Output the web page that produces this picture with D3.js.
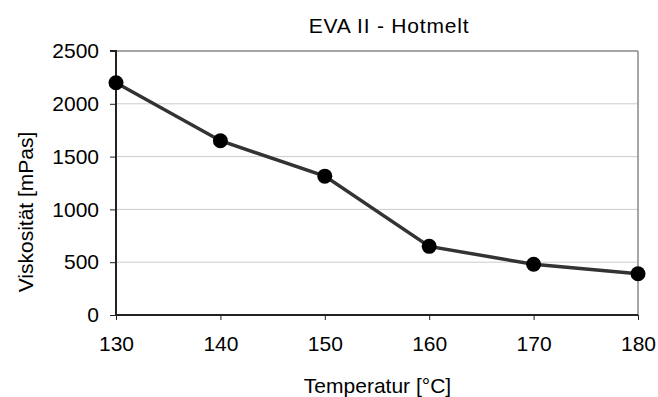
<!DOCTYPE html>
<html><head><meta charset="utf-8">
<script src="https://cdn.jsdelivr.net/npm/d3@7"></script>
<style>body{margin:0;background:#fff}svg{display:block;font-family:"Liberation Sans",Arial,sans-serif}</style>
</head><body><svg width="658" height="397"></svg>
<script>
const temperatures = [130, 140, 150, 160, 170, 180];
const viscosity = [2200, 1650, 1315, 650, 480, 390];
const yTicks = [0, 500, 1000, 1500, 2000, 2500];
const xTicks = [130, 140, 150, 160, 170, 180];
const title = "EVA II - Hotmelt";
const xLabel = "Temperatur [°C]";
const yLabel = "Viskosität [mPas]";

const svg = d3.select("svg");
const L = 116, R = 638, T = 51, B = 315;
const x = d3.scaleLinear().domain([130, 180]).range([L, R]);
const y = d3.scaleLinear().domain([0, 2500]).range([B, T]);

// gridlines
svg.append("g").selectAll("line").data(yTicks.filter(d => d > 0)).join("line")
  .attr("x1", L).attr("x2", R).attr("y1", d => y(d)).attr("y2", d => y(d))
  .attr("stroke", d => d === 2500 ? "#888" : "#ccc").attr("stroke-width", d => d === 2500 ? 1.5 : 1);
// right border
svg.append("line").attr("x1", R).attr("x2", R).attr("y1", T).attr("y2", B).attr("stroke", "#888").attr("stroke-width", 1.5);

const yAxis = svg.append("g").attr("transform", `translate(${L},0)`)
  .call(d3.axisLeft(y).tickValues(yTicks).tickFormat(d3.format("d")).tickSize(6).tickPadding(11));
const xAxis = svg.append("g").attr("transform", `translate(0,${B})`)
  .call(d3.axisBottom(x).tickValues(xTicks).tickFormat(d3.format("d")).tickSize(5).tickPadding(16));
[yAxis, xAxis].forEach(a => {
  a.attr("font-size", null).attr("font-family", null);
  a.select(".domain").attr("stroke", "#222").attr("stroke-width", 2);
  a.selectAll(".tick line").attr("stroke", "#222").attr("stroke-width", 1);
  a.selectAll("text").style("font-size", "21px").attr("fill", "#000");
});
yAxis.select(".domain").attr("d", `M-6,${T}H0V${B}`);
xAxis.select(".domain").attr("d", `M${L},0H${R}`);

const pts = temperatures.map((t, i) => [t, viscosity[i]]);
svg.append("path").datum(pts)
  .attr("d", d3.line().x(d => x(d[0])).y(d => y(d[1])))
  .attr("fill", "none").attr("stroke", "#333").attr("stroke-width", 3.5);
svg.append("g").selectAll("circle").data(pts).join("circle")
  .attr("cx", d => x(d[0])).attr("cy", d => y(d[1])).attr("r", 7.5).attr("fill", "#000");

svg.append("text").attr("x", 389).attr("y", 33).attr("text-anchor", "middle")
  .style("font-size", "21px").style("letter-spacing", "0.8px").text(title);
svg.append("text").attr("x", 377.5).attr("y", 393).attr("text-anchor", "middle")
  .style("font-size", "21px").text(xLabel);
svg.append("text").attr("transform", `translate(33,212) rotate(-90)`).attr("text-anchor", "middle")
  .style("font-size", "21px").text(yLabel);
</script></body></html>
